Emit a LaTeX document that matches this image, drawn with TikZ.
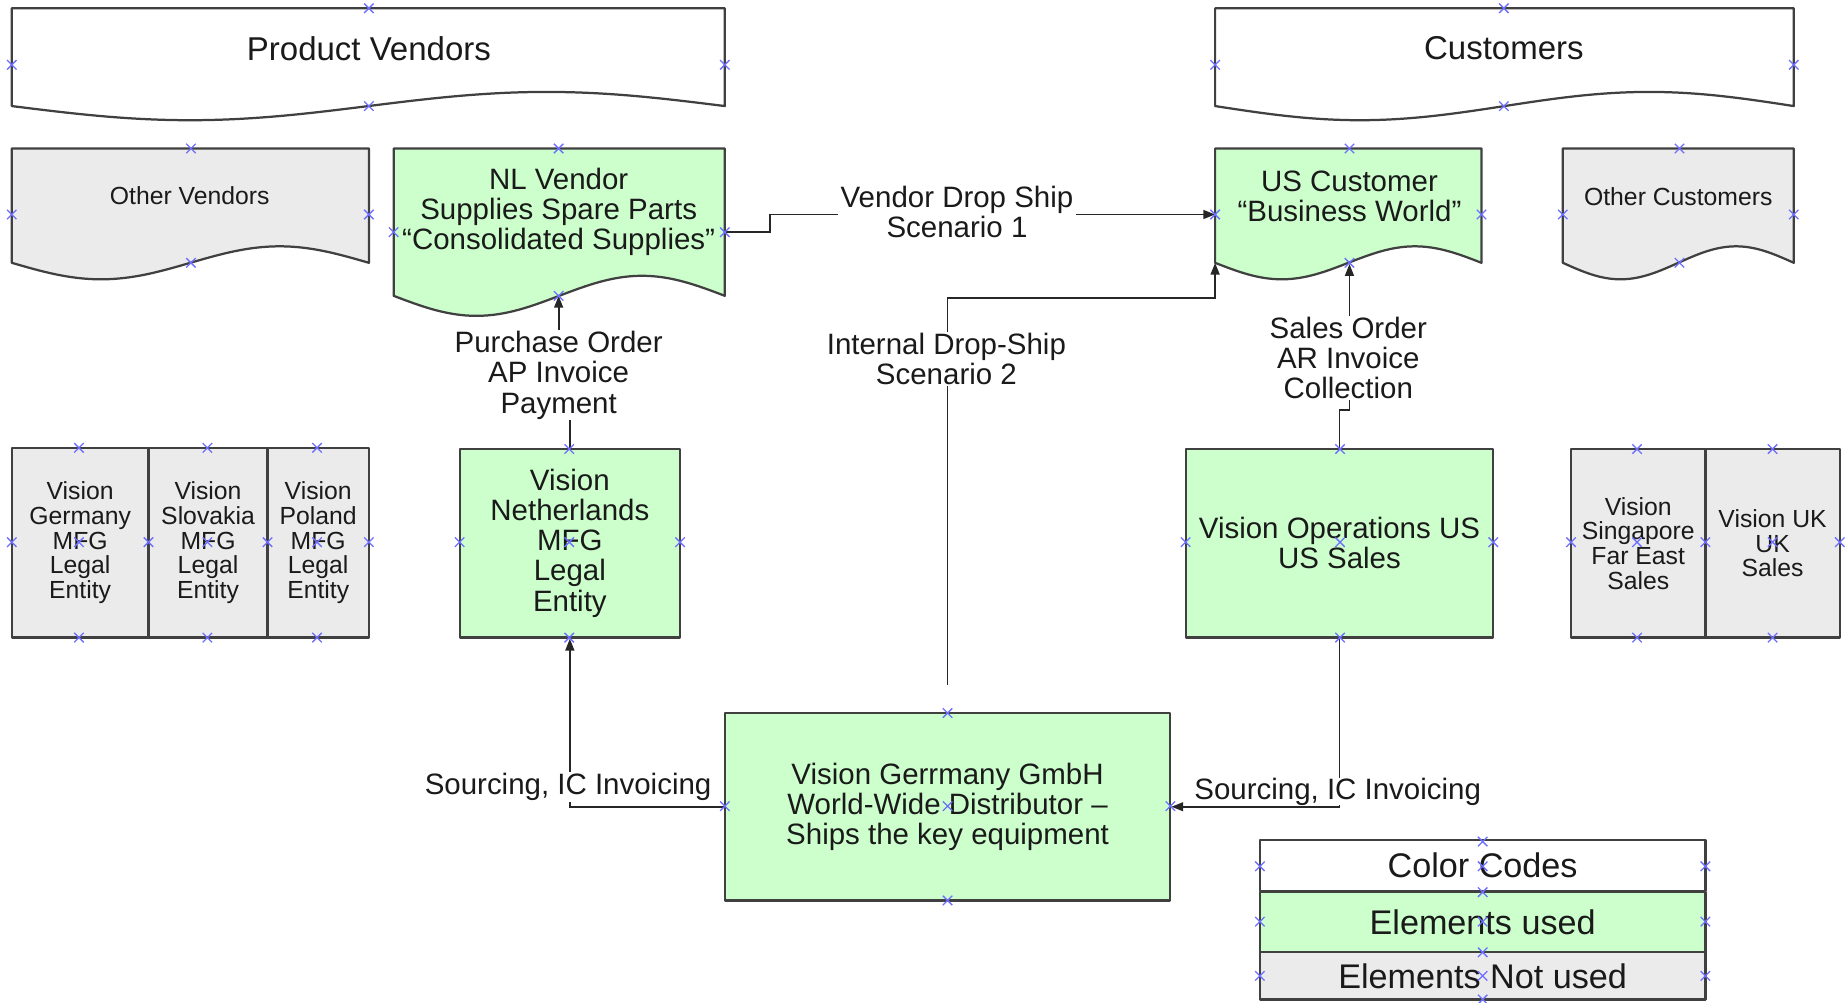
\documentclass[tikz,border=0pt]{standalone}
\usepackage{fontspec}
\setmainfont{Liberation Sans}
\usetikzlibrary{arrows.meta}
\definecolor{gfill}{HTML}{CCFFCC}
\definecolor{nfill}{HTML}{EBEBEB}
\definecolor{bord}{HTML}{404040}
\definecolor{mkc}{HTML}{6E6EFF}
\definecolor{txt}{HTML}{1A1A1A}
\newcommand{\docshape}[6]{%
 \pgfmathsetmacro{\dqa}{#1+0.25*(#3-#1)}%
 \pgfmathsetmacro{\dqm}{#1+0.5*(#3-#1)}%
 \pgfmathsetmacro{\dqb}{#1+0.75*(#3-#1)}%
 \pgfmathsetmacro{\dlo}{#4+#5}%
 \pgfmathsetmacro{\dhi}{#4-#5}%
 \draw[#6] (#1,#2) -- (#3,#2) -- (#3,#4) sin (\dqb,\dhi) cos (\dqm,#4) sin (\dqa,\dlo) cos (#1,#4) -- cycle;}
\begin{document}
\begin{tikzpicture}[x=1pt,y=-1pt,
 shapeline/.style={draw=bord,line width=1.9pt,line join=round},
 greenbox/.style={shapeline,fill=gfill,inner sep=0pt,text=txt,align=center},
 graybox/.style={shapeline,fill=nfill,inner sep=0pt,text=txt,align=center},
 legbox/.style={shapeline,inner sep=0pt,text=txt,minimum width=378pt,font=\fontsize{29}{30}\selectfont},
 fbig/.style={font=\fontsize{28}{30}\selectfont},
 fmed/.style={font=\fontsize{25}{25.5}\selectfont},
 fsmall/.style={font=\fontsize{21}{21}\selectfont},
 conn/.style={draw=black!85,line width=1.5pt},
 arr/.style={conn,-{Triangle[length=10pt,width=7.5pt]}},
 lbl/.style={fill=white,inner xsep=2pt,inner ysep=1pt,text=txt,align=center,font=\fontsize{25}{25.5}\selectfont},
 mk/.style={draw=mkc,line width=1.1pt}]
\useasboundingbox (0,0) rectangle (1568,850.2);

% document shapes
\docshape{10}{7}{615}{90}{12}{shapeline,fill=white}
\node[fbig,text=txt] (pv) at (313,41) {Product Vendors};
\docshape{1031}{7}{1522}{90}{12}{shapeline,fill=white}
\node[fbig,text=txt] (cu) at (1276,41) {Customers};
\docshape{10}{126}{313}{223}{14}{shapeline,fill=nfill}
\node[fsmall,text=txt] (ov) at (161,166) {Other Vendors};
\docshape{334}{126}{615}{251}{17}{shapeline,fill=gfill}
\node[fmed,text=txt,align=center] (nl) at (474,180) {NL Vendor\\Supplies Spare Parts\\“Consolidated Supplies”};
\docshape{1031}{126}{1257}{223}{14}{shapeline,fill=gfill}
\node[fmed,text=txt,align=center] (uc) at (1145,166.5) {US Customer\\“Business World”};
\docshape{1326}{126}{1522}{223}{14}{shapeline,fill=nfill}
\node[fsmall,text=txt] (oc) at (1424,167) {Other Customers};

% rectangles
\node[graybox,fsmall,minimum width=116pt,minimum height=161pt] (vger) at (68,460.5) {Vision\\Germany\\MFG\\Legal\\Entity};
\node[graybox,fsmall,minimum width=101pt,minimum height=161pt] (vslo) at (176.5,460.5) {Vision\\Slovakia\\MFG\\Legal\\Entity};
\node[graybox,fsmall,minimum width=86pt,minimum height=161pt] (vpol) at (270,460.5) {Vision\\Poland\\MFG\\Legal\\Entity};
\node[greenbox,fmed,minimum width=187pt,minimum height=160pt] (vnl) at (483.5,461) {Vision\\Netherlands\\MFG\\Legal\\Entity};
\node[greenbox,fmed,minimum width=261pt,minimum height=160pt] (vops) at (1136.5,461) {Vision Operations US\\US Sales};
\node[graybox,fsmall,minimum width=114pt,minimum height=160pt] (vsg) at (1390,461) {Vision\\Singapore\\Far East\\Sales};
\node[graybox,fsmall,minimum width=114pt,minimum height=160pt] (vuk) at (1504,461) {Vision UK\\UK\\Sales};
\node[greenbox,fmed,minimum width=378pt,minimum height=159pt] (vgm) at (804,684.5) {Vision Gerrmany GmbH\\World-Wide Distributor –\\Ships the key equipment};

% legend
\node[legbox,fill=white,minimum height=43pt] (lgh) at (1258,734.5) {Color Codes};
\node[legbox,fill=gfill,minimum height=51pt] (lgu) at (1258,782.5) {Elements used};
\node[legbox,fill=nfill,minimum height=40pt] (lgn) at (1258,828) {Elements Not used};

% connector end points
\coordinate (nlE) at (615,197);
\coordinate (nlS) at (474,251);
\coordinate (ucW) at (1031,182);
\coordinate (ucS) at (1145,224);
\coordinate (ucSW) at (1031,223);
\coordinate (gmTop) at (804,581);

\draw[arr] (nlE) -- ++(38,0) |- (ucW);
\draw[arr] (vnl.north) -- ++(0,-63) -| (nlS);
\draw[arr] (vops.north) -- ++(0,-32) -| (ucS);
\draw[arr] (gmTop) -- (804,253) -| (ucSW);
\draw[arr] (vgm.west) -| (vnl.south);
\draw[arr] (vops.south) |- (vgm.east);

% labels
\node[lbl] (lvd) at (812,180) {Vendor Drop Ship\\Scenario 1};
\node[lbl] (lpo) at (474,318.5) {Purchase Order\\AP Invoice\\Payment};
\node[lbl] (lso) at (1144,304) {Sales Order\\AR Invoice\\Collection};
\node[lbl] (lid) at (803,304.5) {Internal Drop-Ship\\Scenario 2};
\node[lbl,anchor=base] (lsl) at (482,674) {Sourcing, IC Invoicing};
\node[lbl,anchor=base,inner ysep=0pt] (lsr) at (1135,678) {Sourcing, IC Invoicing};

% connection point markers
\foreach \a/\b in {313/7,10/55,615/55,313/90,
 1276/7,1031/55,1522/55,1276/90,
 162/126,10/182,313/182,162/223,
 474/126,334/197,615/197,474/251,
 1145/126,1031/182,1257/182,1145/223,
 1425/126,1326/182,1522/182,1425/223,
 67/380,176/380,269/380,10/460,67/460,126/460,176/460,227/460,269/460,313/460,67/541,176/541,269/541,
 483/381,390/460,483/460,577/460,483/541,
 1137/381,1006/460,1137/460,1267/460,1137/541,
 1389/381,1504/381,1333/460,1389/460,1447/460,1504/460,1561/460,1389/541,1504/541,
 804/605,615/684,804/684,993/684,804/764,
 1258/714,1069/735,1258/735,1447/735,1258/757,1069/782,1258/782,1447/782,1258/808,1069/828,1258/828,1447/828,1258/848}
 \draw[mk] (\a-4,\b-4) -- (\a+4,\b+4) (\a-4,\b+4) -- (\a+4,\b-4);
\end{tikzpicture}
\end{document}
